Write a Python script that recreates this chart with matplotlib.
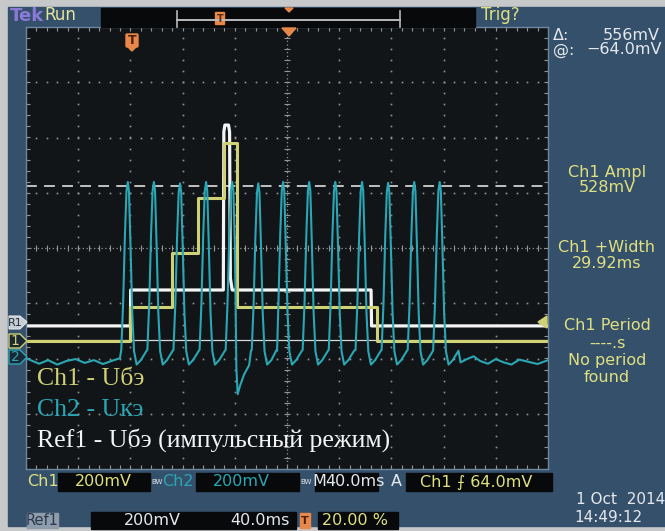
import numpy as np
import matplotlib.pyplot as plt
from matplotlib import font_manager
from matplotlib.patches import Rectangle, Polygon, FancyBboxPatch

W, H = 665, 531

# screen colours
FRAME = '#c6c8ca'
PANEL = '#35506b'
SCREEN = '#111518'
GRID = '#959595'
YELLOW = '#d0d074'
CYAN = '#2aa6b4'
WHITE = '#f4f4f4'
ORANGE = '#e8874a'
TXT_Y = '#e0e080'
TXT_W = '#e4e8ec'

# 40 ms/div, trigger 20 % from the left, 200 mV/div
MS_PER_DIV = 40
MV_PER_DIV = 200
T_LEFT = -80
T_RIGHT = T_LEFT + 10 * MS_PER_DIV

# ground levels, divisions from screen centre
ch1_gnd = -1.683
ch2_gnd = -1.97
ref_gnd = -1.345

# Ch1 - base-emitter voltage, level after each edge (ms, mV)
ch1_edges = [-80, 0, 32, 52, 72, 82, 189, 320]
ch1_levels = [0, 123, 320, 519, 717, 123, 0, 0]

# Ref1 - base-emitter voltage, pulse mode (ms, mV)
ref_t = [-80, 0, 0.2, 71.2, 71.6, 72.4, 75.2, 76.0, 76.6, 78.0, 184.4, 184.8, 320]
ref_mv = [-13, -13, 117, 117, 690, 714, 714, 690, 160, 117, 117, -13, -13]

# Ch2 - collector-emitter voltage, spike peaks (ms, mV)
spike_t = [-2, 18, 38, 58, 78, 98, 117, 137, 157, 177.5, 197.5, 217.5, 237]
spike_mv = [633, 633, 628, 633, 633, 628, 633, 633, 633, 633, 630, 633, 633]
# one spike around its peak (ms from peak, mV)
pulse_dt = [-5.0, -3.6, -2.2, -1.0, 0.0, 0.9, 2.1, 3.4, 4.8, 6.8, 10.0, 14.4]
pulse_mv = [25, 190, 440, 600, 633, 600, 400, 160, 20, -28, -12, 22]
# undershoot when Ch1 drops
dip_t = [81.2, 82.2, 84.0, 87.0, 91.0]
dip_mv = [-40, -135, -105, -65, -30]
# ripple before and after the burst
pre_t = [-80, -75, -70, -63, -56, -49, -42, -35, -28, -21, -14, -8]
pre_mv = [-5, -15, -25, -12, -28, -15, -8, -22, -12, -26, -14, -5]
post_t = [253, 258, 263, 268, 274, 280, 286, 292, 298, 305, 312, 320]
post_mv = [-20, -8, 2, -15, -25, -8, -20, -28, -10, -18, -26, -12]

# cursors (Ref1)
cursor_at = -64
cursor_delta = 556

font_names = {f.name for f in font_manager.fontManager.ttflist}
UI = 'Liberation Sans Narrow' if 'Liberation Sans Narrow' in font_names else 'DejaVu Sans'
SERIF = 'Liberation Serif'


def div(mv, gnd):
    return gnd + np.asarray(mv, dtype=float) / MV_PER_DIV


fig = plt.figure(figsize=(W / 100, H / 100), dpi=100)

# background frame and panel
bg = fig.add_axes([0, 0, 1, 1])
bg.set_xlim(0, W)
bg.set_ylim(H, 0)
bg.axis('off')
bg.add_patch(Rectangle((0, 0), W, H, color=FRAME))
bg.add_patch(Rectangle((8, 7), W - 8, 519, color=PANEL))

# ---- scope screen ----
ax = fig.add_axes([26 / W, 1 - 469 / H, 522 / W, 442 / H])
ax.set_facecolor(SCREEN)
ax.set_xlim(T_LEFT, T_RIGHT)
ax.set_ylim(-4, 4)
ax.set_xticks([])
ax.set_yticks([])
for s in ax.spines.values():
    s.set_color('#6d87a0')
    s.set_linewidth(1)

px_x = MS_PER_DIV * 10 / 522
px_y = 8 / 442

# grid dots
for i in range(1, 10):
    if i == 5:
        continue
    x = T_LEFT + i * MS_PER_DIV
    ys = np.arange(-4, 4.01, 0.2)
    ax.plot(np.full_like(ys, x), ys, ls='none', marker='s', ms=1.2, color=GRID, mec='none')
for j in range(-3, 4):
    if j == 0:
        continue
    xs = np.arange(T_LEFT, T_RIGHT + 0.1, MS_PER_DIV / 5)
    ax.plot(xs, np.full_like(xs, j), ls='none', marker='s', ms=1.2, color=GRID, mec='none')

# centre cross with minor ticks
tc = T_LEFT + 5 * MS_PER_DIV
ax.axhline(0, color=GRID, lw=0.9, ls=(0, (1, 2)))
ax.axvline(tc, color=GRID, lw=0.9, ls=(0, (1, 2)))
xs = np.arange(T_LEFT, T_RIGHT + 0.1, MS_PER_DIV / 5)
ys = np.arange(-4, 4.01, 0.2)
ax.vlines(xs, -3 * px_y, 3 * px_y, color=GRID, lw=0.8)
ax.hlines(ys, tc - 3 * px_x, tc + 3 * px_x, color=GRID, lw=0.8)
# edge ticks
ax.vlines(xs, 4 - 4 * px_y, 4, color=GRID, lw=0.8)
ax.vlines(xs, -4, -4 + 4 * px_y, color=GRID, lw=0.8)
ax.hlines(ys, T_LEFT, T_LEFT + 4 * px_x, color=GRID, lw=0.8)
ax.hlines(ys, T_RIGHT - 4 * px_x, T_RIGHT, color=GRID, lw=0.8)

# cursors
ax.axhline(div(cursor_at, ref_gnd), color='#d8d8d8', lw=0.9)
ax.axhline(div(cursor_at + cursor_delta, ref_gnd), color='#cfcfcf', lw=1.3, ls=(0, (6, 4)))

# Ref1
ax.plot(ref_t, div(ref_mv, ref_gnd), color=WHITE, lw=2.3)

# Ch1
ax.step(ch1_edges, div(ch1_levels, ch1_gnd), where='post', color=YELLOW, lw=2.2)

# Ch2 built from spikes, undershoot and ripple
ct, cv = list(pre_t), list(pre_mv)
for ts, pk in zip(spike_t, spike_mv):
    for dt, mv in zip(pulse_dt, pulse_mv):
        t = ts + dt
        if dip_t[0] - 0.2 <= t <= dip_t[-1] + 0.5:
            continue
        ct.append(t)
        cv.append(mv * pk / 633)
ct += dip_t + post_t
cv += dip_mv + post_mv
order = np.argsort(ct)
ax.plot(np.array(ct)[order], div(np.array(cv)[order], ch2_gnd), color=CYAN, lw=1.5)

# ---- overlay in pixel coordinates ----
ov = fig.add_axes([0, 0, 1, 1])
ov.set_xlim(0, W)
ov.set_ylim(H, 0)
ov.axis('off')
ov.patch.set_alpha(0)

# top status bar
ov.add_patch(Rectangle((101, 8), 374, 19, color='#07090b'))
ov.plot([177, 400], [20, 20], color='#b8b8b8', lw=1.4)
ov.plot([177, 177], [11, 27], color='#b8b8b8', lw=1.2)
ov.plot([400, 400], [11, 27], color='#b8b8b8', lw=1.2)
ov.add_patch(FancyBboxPatch((216, 13), 8, 11, boxstyle='round,pad=0.5', color=ORANGE))
ov.text(220, 19, 'T', color='#5a2a10', ha='center', va='center', fontsize=7, fontweight='bold', family=UI)
ov.add_patch(Polygon([(285, 8), (293, 8), (289, 12)], color=ORANGE))
ov.text(10, 16, 'Tek', color='#8a7ad8', fontsize=13, fontweight='bold', va='center', family=UI)
ov.text(44, 15, 'Run', color='#e6e69a', fontsize=12, va='center', family=UI)
ov.text(481, 15, 'Trig?', color=TXT_Y, fontsize=12, va='center', family=UI)

# trigger position markers on the screen
ov.add_patch(Polygon([(282, 28), (296, 28), (289, 36)], color=ORANGE))
ov.add_patch(FancyBboxPatch((127, 35), 10, 11, boxstyle='round,pad=1', color=ORANGE))
ov.add_patch(Polygon([(128, 47), (136, 47), (132, 51)], color=ORANGE))
ov.text(132, 41, 'T', color='#4a2008', ha='center', va='center', fontsize=9, fontweight='bold', family=UI)

# trigger level arrow
ov.add_patch(Polygon([(538, 322), (547, 316), (547, 328)], color=YELLOW))

# channel ground markers
ov.add_patch(Polygon([(9, 316), (20, 316), (27, 322), (20, 329), (9, 329)], fc='#c9ced4', ec='#e0e4e8', lw=0.8))
ov.text(15, 322.5, 'R1', color='#20303f', ha='center', va='center', fontsize=8, family=UI)
ov.add_patch(Polygon([(9, 334), (20, 334), (27, 341), (20, 348), (9, 348)], fc='#1c2834', ec=YELLOW, lw=1))
ov.text(15, 341, '1', color=YELLOW, ha='center', va='center', fontsize=10, family=UI)
ov.add_patch(Polygon([(9, 350), (20, 350), (27, 357), (20, 364), (9, 364)], fc='#1c2834', ec=CYAN, lw=1))
ov.text(15, 357, '2', color=CYAN, ha='center', va='center', fontsize=10, family=UI)

# trace legend
ov.text(37, 379, 'Ch1 - Uбэ', color=YELLOW, fontsize=18.5, va='center', family=SERIF)
ov.text(37, 410, 'Ch2 - Uкэ', color=CYAN, fontsize=18.5, va='center', family=SERIF)
ov.text(37, 440, 'Ref1 - Uбэ (импульсный режим)', color=WHITE, fontsize=18.5, va='center', family=SERIF)

# right side readouts
ov.text(553, 36, 'Δ:', color=TXT_W, fontsize=11.5, va='center', family=UI)
ov.text(660, 36, f'{cursor_delta}mV', color=TXT_W, fontsize=11.5, va='center', ha='right', family=UI)
ov.text(553, 50, '@:', color=TXT_W, fontsize=11.5, va='center', family=UI)
ov.text(662, 50, f'−{abs(cursor_at):.1f}mV', color=TXT_W, fontsize=11.5, va='center', ha='right', family=UI)
for y, s in [(172, 'Ch1 Ampl'), (188, '528mV'), (248, 'Ch1 +Width'), (264, '29.92ms'),
             (325, 'Ch1 Period'), (343, '----.s'), (360, 'No period'), (377, 'found')]:
    ov.text(607, y, s, color=TXT_Y, fontsize=11.5, va='center', ha='center', family=UI)

# bottom settings rows
for x0, x1 in [(58, 150), (196, 299), (315, 378), (406, 552)]:
    ov.add_patch(Rectangle((x0, 473), x1 - x0, 18, color='#07090b'))
ov.text(27, 482, 'Ch1', color=TXT_Y, fontsize=11.5, va='center', family=UI)
ov.text(75, 482, '200mV', color=TXT_Y, fontsize=11.5, va='center', family=UI)
ov.text(151, 482, 'BW', color=TXT_W, fontsize=5, va='center', family=UI)
ov.text(162, 482, 'Ch2', color=CYAN, fontsize=11.5, va='center', family=UI)
ov.text(213, 482, '200mV', color=CYAN, fontsize=11.5, va='center', family=UI)
ov.text(300, 482, 'BW', color=TXT_W, fontsize=5, va='center', family=UI)
ov.text(312, 482, 'M', color=TXT_W, fontsize=11.5, va='center', family=UI)
ov.text(325, 482, '40.0ms', color=TXT_W, fontsize=11.5, va='center', family=UI)
ov.text(391, 482, 'A', color=TXT_W, fontsize=11.5, va='center', family=UI)
ov.text(420, 482, 'Ch1 ⨍ 64.0mV', color=TXT_Y, fontsize=11.5, va='center', family=[UI, 'DejaVu Sans'])

ov.add_patch(Rectangle((27, 513), 31, 15, color='#8e9cac'))
ov.text(42, 520.5, 'Ref1', color='#2a3a4c', fontsize=10.5, va='center', ha='center', family=UI)
ov.add_patch(Rectangle((91, 512), 205, 17, color='#07090b'))
ov.text(124, 520.5, '200mV', color=TXT_W, fontsize=11.5, va='center', family=UI)
ov.text(230, 520.5, '40.0ms', color=TXT_W, fontsize=11.5, va='center', family=UI)
ov.add_patch(Rectangle((300, 513), 10, 15, color=ORANGE))
ov.text(305, 520.5, 'T', color='#4a2008', fontsize=8, va='center', ha='center', fontweight='bold', family=UI)
ov.add_patch(Rectangle((318, 512), 80, 17, color='#07090b'))
ov.text(322, 520.5, '20.00 %', color=TXT_Y, fontsize=11.5, va='center', family=UI)

ov.text(576, 500, '1 Oct  2014', color=TXT_W, fontsize=11, va='center', family=UI)
ov.text(574, 518, '14:49:12', color=TXT_W, fontsize=11, va='center', family=UI)

fig.savefig('out.png', dpi=100)
